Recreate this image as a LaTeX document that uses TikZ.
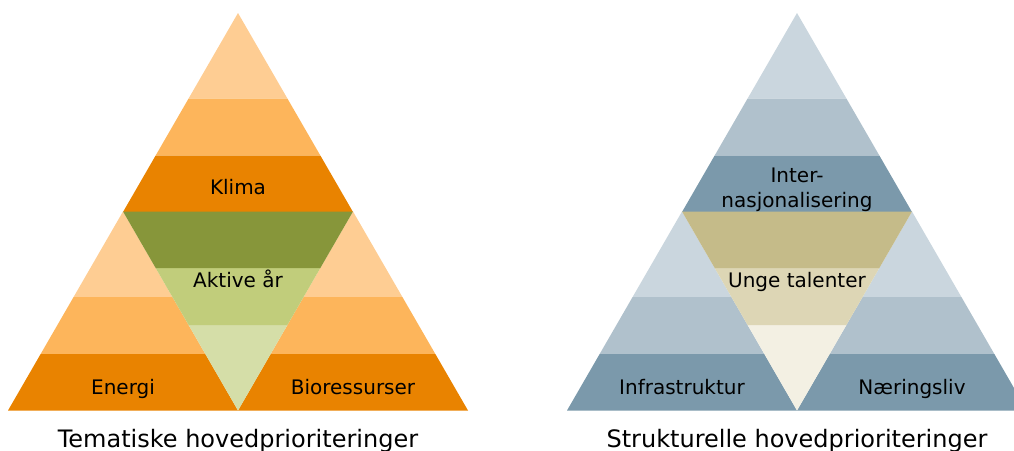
\documentclass[tikz,border=0pt]{standalone}
\usepackage{fontspec}
\setmainfont{DejaVu Sans}
\usepackage{tikz}

\definecolor{orlight}{HTML}{FECD93}
\definecolor{ormid}{HTML}{FDB55B}
\definecolor{ordark}{HTML}{E98300}
\definecolor{grdark}{HTML}{87963A}
\definecolor{grmid}{HTML}{C1CD7B}
\definecolor{grlight}{HTML}{D5DEA8}
\definecolor{bllight}{HTML}{CAD6DE}
\definecolor{blmid}{HTML}{B0C1CC}
\definecolor{bldark}{HTML}{7B99AB}
\definecolor{tndark}{HTML}{C5BB89}
\definecolor{tnmid}{HTML}{DDD6B5}
\definecolor{tnlight}{HTML}{F3F0E3}

% one small triangle in three bands: apex x, apex y, direction, light, mid, dark
\newcommand{\bandtri}[6]{%
  \begin{scope}[shift={(#1,#2)},yscale=#3]
    \fill[#4] (0,0) -- (49.4,85.5) -- (-49.4,85.5) -- cycle;
    \fill[#5] (-49.4,85.5) -- (49.4,85.5) -- (82.35,142.5) -- (-82.35,142.5) -- cycle;
    \fill[#6] (-82.35,142.5) -- (82.35,142.5) -- (115,199) -- (-115,199) -- cycle;
  \end{scope}}

\begin{document}
\begin{tikzpicture}[x=1pt,y=-1pt]
    \tikzstyle{lbl}=[inner sep=0pt,anchor=base,font=\fontsize{20}{25}\selectfont]
    \tikzstyle{caption}=[inner sep=0pt,anchor=base,font=\fontsize{24}{29}\selectfont]
    \useasboundingbox (0,0) rectangle (1014,450);
    \clip (0,0) rectangle (1014,450);
    % thematic pyramid
    \bandtri{238}{13}{1}{orlight}{ormid}{ordark}
    \bandtri{123}{211.5}{1}{orlight}{ormid}{ordark}
    \bandtri{353}{211.5}{1}{orlight}{ormid}{ordark}
    \bandtri{238}{410.5}{-1}{grlight}{grmid}{grdark}
    % structural pyramid
    \bandtri{797}{13}{1}{bllight}{blmid}{bldark}
    \bandtri{682}{211.5}{1}{bllight}{blmid}{bldark}
    \bandtri{912}{211.5}{1}{bllight}{blmid}{bldark}
    \bandtri{797}{410.5}{-1}{tnlight}{tnmid}{tndark}
    % labels
    \node[lbl] (klima) at (238,194) {Klima};
    \node[lbl] (aktive) at (238,287) {Aktive år};
    \node[lbl] (energi) at (123,394) {Energi};
    \node[lbl] (bio) at (353,394) {Bioressurser};
    \node[lbl] (inter) at (797,182) {Inter-};
    \node[lbl] (nasjon) at (797,207) {nasjonalisering};
    \node[lbl] (unge) at (797,287) {Unge talenter};
    \node[lbl] (infra) at (682,394) {Infrastruktur};
    \node[lbl] (naering) at (912,394) {Næringsliv};
    \node[caption] (tema) at (238,447) {Tematiske hovedprioriteringer};
    \node[caption] (struk) at (797,447) {Strukturelle hovedprioriteringer};
\end{tikzpicture}
\end{document}
